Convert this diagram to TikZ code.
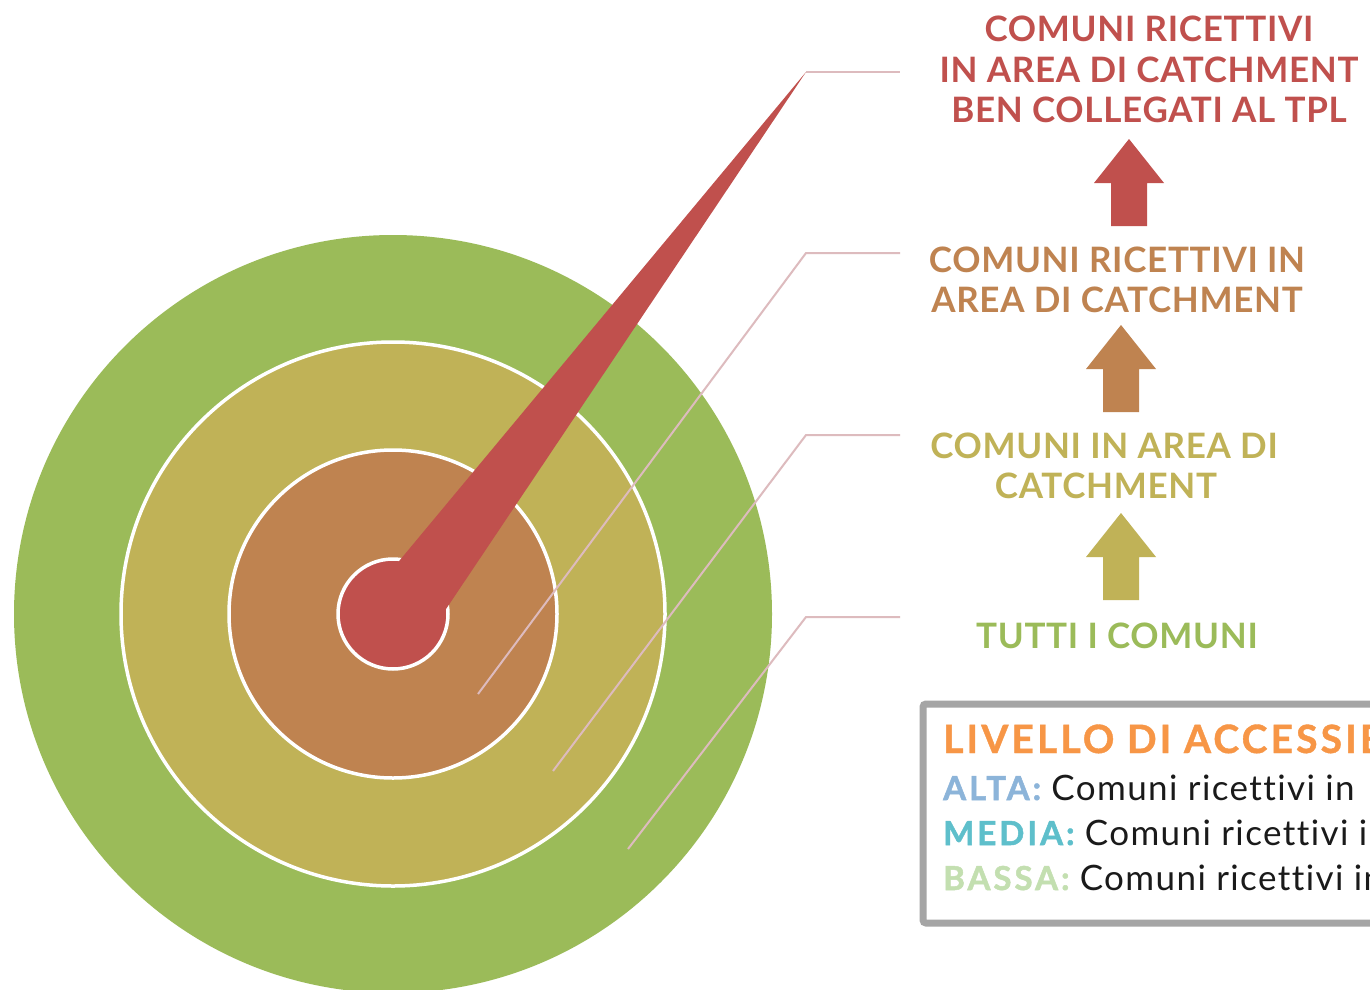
\documentclass[tikz,border=0pt]{standalone}
\usepackage{fontspec}
\setmainfont{Lato}
\definecolor{cred}{HTML}{C0504D}
\definecolor{cbrown}{HTML}{BF8350}
\definecolor{colive}{HTML}{C0B257}
\definecolor{cgreen}{HTML}{9BBB59}
\definecolor{clead}{HTML}{DDBBBE}
\definecolor{cgrayb}{HTML}{A5A5A5}
\definecolor{corange}{HTML}{F79646}
\definecolor{calta}{HTML}{8CB4D9}
\definecolor{cmedia}{HTML}{5EBFCB}
\definecolor{cbassa}{HTML}{C3DFB0}
\definecolor{ctext}{HTML}{1A1A1A}
\tikzset{
  ring/.style={draw=white,line width=3.5pt},
  leader/.style={draw=clead,line width=2pt},
  head/.style={inner sep=0pt,anchor=base,font=\bfseries\fontsize{35}{40}\selectfont\addfontfeature{LetterSpace=2}},
  legtitle/.style={inner sep=0pt,anchor=base west,font=\bfseries\fontsize{39}{44}\selectfont\addfontfeature{LetterSpace=8,FakeBold=1},text=corange},
  legrow/.style={inner sep=0pt,anchor=base west,text=ctext,font=\fontsize{35}{40}\selectfont\addfontfeature{Ligatures=NoCommon,LetterSpace=4}},
  uparrow/.pic={\fill (0,0) -- (35,44) -- (18,44) -- (18,87) -- (-18,87) -- (-18,44) -- (-35,44) -- cycle;}
}
\newcommand{\leglabel}[2]{{\bfseries\fontsize{33}{36}\selectfont\addfontfeature{LetterSpace=9,FakeBold=1.5}\textcolor{#1}{#2}}}
\begin{document}
\begin{tikzpicture}[x=1pt,y=-1pt]
\path[use as bounding box,clip] (0,0) rectangle (1370,990);
\fill[white] (0,0) rectangle (1370,990);
% target
\coordinate (c) at (393,614);
\fill[cgreen] (c) circle[radius=379pt];
\filldraw[fill=colive,ring] (c) circle[radius=272pt];
\filldraw[fill=cbrown,ring] (c) circle[radius=164pt];
\filldraw[fill=cred,ring] (c) circle[radius=55pt];
% leaders
\coordinate (tip) at (806,72);
\coordinate (e1) at (900,72);
\coordinate (s2) at (478,694);
\coordinate (k2) at (806,253);
\coordinate (e2) at (900,253);
\coordinate (s3) at (553,771);
\coordinate (k3) at (806,435);
\coordinate (e3) at (900,435);
\coordinate (s4) at (628,849);
\coordinate (k4) at (806,617);
\coordinate (e4) at (900,617);
\draw[leader] (tip) -- (e1);
\draw[leader] (s2) -- (k2) -- (e2);
\draw[leader] (s3) -- (k3) -- (e3);
\draw[leader] (s4) -- (k4) -- (e4);
% needle
\fill[cred] (tip) -- (436,624) -- (385,578) -- cycle;
% headings
\node[head,text=cred] (t1a) at (1149,42) {COMUNI RICETTIVI};
\node[head,text=cred] (t1b) at (1149,82) {IN AREA DI CATCHMENT};
\node[head,text=cred] (t1c) at (1149,122) {BEN COLLEGATI AL TPL};
\node[head,text=cbrown] (t2a) at (1117,272) {COMUNI RICETTIVI IN};
\node[head,text=cbrown] (t2b) at (1117,312) {AREA DI CATCHMENT};
\node[head,text=colive] (t3a) at (1104,458) {COMUNI IN AREA DI};
\node[head,text=colive] (t3b) at (1106,498) {CATCHMENT};
\node[head,text=cgreen] (t4) at (1117,648) {TUTTI I COMUNI};
% arrows
\pic[color=cred] at (1129,139) {uparrow};
\pic[color=cbrown] at (1121,325) {uparrow};
\pic[color=colive] at (1121,513) {uparrow};
% legend
\draw[draw=cgrayb,fill=white,line width=7pt,rounded corners=3pt] (923,704) rectangle (1420,923);
\node[legtitle] (lt) at (943,753) {LIVELLO DI ACCESSIBILITÀ};
\node[legrow] (la) at (943,800) {\leglabel{calta}{ALTA:} Comuni ricettivi in};
\node[legrow] (lm) at (943,845) {\leglabel{cmedia}{MEDIA:} Comuni ricettivi in};
\node[legrow] (lb) at (943,890) {\leglabel{cbassa}{BASSA:} Comuni ricettivi in};
\end{tikzpicture}
\end{document}
